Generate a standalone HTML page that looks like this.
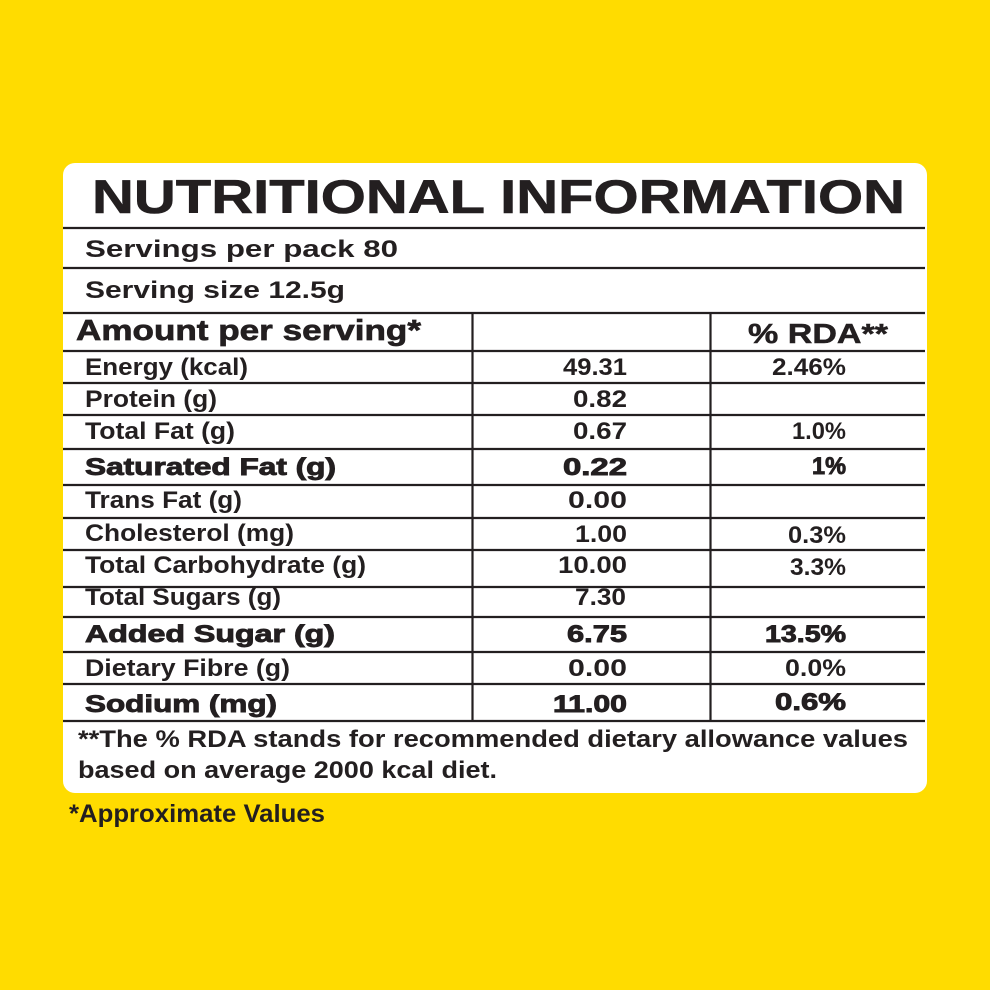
<!DOCTYPE html>
<html>
<head>
<meta charset="utf-8">
<style>
  html,body{margin:0;padding:0;background:#FFDC00;}
  svg{display:block;}
  text{font-family:"Liberation Sans",sans-serif;fill:#231f20;}
  .m{font-weight:bold;font-size:24px;}
  .b{font-weight:bold;font-size:24px;stroke:#231f20;stroke-width:0.9px;}
</style>
</head>
<body>
<svg width="990" height="990" viewBox="0 0 990 990" xmlns="http://www.w3.org/2000/svg">
  <rect x="0" y="0" width="990" height="990" fill="#FFDC00"/>
  <rect x="63" y="163" width="864" height="630" rx="12" ry="12" fill="#ffffff"/>

  <!-- title -->
  <text x="92" y="213" font-size="47" font-weight="bold" stroke="#231f20" stroke-width="0.6" textLength="813" lengthAdjust="spacingAndGlyphs">NUTRITIONAL INFORMATION</text>

  <!-- horizontal lines -->
  <g stroke="#231f20" stroke-width="2.2">
    <line x1="63" y1="228" x2="925" y2="228"/>
    <line x1="63" y1="268" x2="925" y2="268"/>
    <line x1="63" y1="313" x2="925" y2="313"/>
    <line x1="63" y1="351" x2="925" y2="351"/>
    <line x1="63" y1="383" x2="925" y2="383"/>
    <line x1="63" y1="415" x2="925" y2="415"/>
    <line x1="63" y1="449" x2="925" y2="449"/>
    <line x1="63" y1="485" x2="925" y2="485"/>
    <line x1="63" y1="518" x2="925" y2="518"/>
    <line x1="63" y1="550" x2="925" y2="550"/>
    <line x1="63" y1="587" x2="925" y2="587"/>
    <line x1="63" y1="617" x2="925" y2="617"/>
    <line x1="63" y1="652" x2="925" y2="652"/>
    <line x1="63" y1="684" x2="925" y2="684"/>
    <line x1="63" y1="721" x2="925" y2="721"/>
    <line x1="472.5" y1="313" x2="472.5" y2="721"/>
    <line x1="710.5" y1="313" x2="710.5" y2="721"/>
  </g>

  <!-- header rows -->
  <text x="85" y="257" font-size="24" font-weight="bold" textLength="313" lengthAdjust="spacingAndGlyphs">Servings per pack 80</text>
  <text x="85" y="298" font-size="24" font-weight="bold" textLength="260" lengthAdjust="spacingAndGlyphs">Serving size 12.5g</text>
  <text x="76" y="340" font-size="29" font-weight="bold" stroke="#231f20" stroke-width="0.7" textLength="345" lengthAdjust="spacingAndGlyphs">Amount per serving*</text>
  <text x="748" y="343" font-size="28" font-weight="bold" stroke="#231f20" stroke-width="0.5" textLength="140" lengthAdjust="spacingAndGlyphs">% RDA**</text>

  <!-- labels -->
  <text class="m" x="85" y="375" textLength="163" lengthAdjust="spacingAndGlyphs">Energy (kcal)</text>
  <text class="m" x="85" y="407" textLength="132" lengthAdjust="spacingAndGlyphs">Protein (g)</text>
  <text class="m" x="85" y="439" textLength="150" lengthAdjust="spacingAndGlyphs">Total Fat (g)</text>
  <text class="b" x="85" y="475" textLength="251" lengthAdjust="spacingAndGlyphs">Saturated Fat (g)</text>
  <text class="m" x="85" y="508" textLength="157" lengthAdjust="spacingAndGlyphs">Trans Fat (g)</text>
  <text class="m" x="85" y="541" textLength="209" lengthAdjust="spacingAndGlyphs">Cholesterol (mg)</text>
  <text class="m" x="85" y="573" textLength="281" lengthAdjust="spacingAndGlyphs">Total Carbohydrate (g)</text>
  <text class="m" x="85" y="605" textLength="196" lengthAdjust="spacingAndGlyphs">Total Sugars (g)</text>
  <text class="b" x="85" y="642" textLength="250" lengthAdjust="spacingAndGlyphs">Added  Sugar (g)</text>
  <text class="m" x="85" y="676" textLength="205" lengthAdjust="spacingAndGlyphs">Dietary Fibre (g)</text>
  <text class="b" x="85" y="712" textLength="192" lengthAdjust="spacingAndGlyphs">Sodium (mg)</text>

  <!-- values -->
  <g text-anchor="end">
    <text class="m" x="627" y="375" textLength="64" lengthAdjust="spacingAndGlyphs">49.31</text>
    <text class="m" x="627" y="407" textLength="54" lengthAdjust="spacingAndGlyphs">0.82</text>
    <text class="m" x="627" y="439" textLength="54" lengthAdjust="spacingAndGlyphs">0.67</text>
    <text class="b" x="627" y="475" textLength="64" lengthAdjust="spacingAndGlyphs">0.22</text>
    <text class="m" x="627" y="508" textLength="59" lengthAdjust="spacingAndGlyphs">0.00</text>
    <text class="m" x="627" y="542" textLength="52" lengthAdjust="spacingAndGlyphs">1.00</text>
    <text class="m" x="627" y="573" textLength="69" lengthAdjust="spacingAndGlyphs">10.00</text>
    <text class="m" x="626" y="605" textLength="51" lengthAdjust="spacingAndGlyphs">7.30</text>
    <text class="b" x="627" y="642" textLength="60" lengthAdjust="spacingAndGlyphs">6.75</text>
    <text class="m" x="627" y="676" textLength="59" lengthAdjust="spacingAndGlyphs">0.00</text>
    <text class="b" x="627" y="712" textLength="74" lengthAdjust="spacingAndGlyphs">11.00</text>

    <text class="m" x="846" y="375" textLength="74" lengthAdjust="spacingAndGlyphs">2.46%</text>
    <text class="m" x="846" y="439" textLength="54" lengthAdjust="spacingAndGlyphs">1.0%</text>
    <text class="b" x="846" y="474" textLength="34" lengthAdjust="spacingAndGlyphs">1%</text>
    <text class="m" x="846" y="543" textLength="58" lengthAdjust="spacingAndGlyphs">0.3%</text>
    <text class="m" x="846" y="575" textLength="56" lengthAdjust="spacingAndGlyphs">3.3%</text>
    <text class="b" x="846" y="642" textLength="81" lengthAdjust="spacingAndGlyphs">13.5%</text>
    <text class="m" x="846" y="676" textLength="61" lengthAdjust="spacingAndGlyphs">0.0%</text>
    <text class="b" x="846" y="710" textLength="71" lengthAdjust="spacingAndGlyphs">0.6%</text>
  </g>

  <!-- footnotes -->
  <text class="m" x="78" y="747" textLength="830" lengthAdjust="spacingAndGlyphs">**The % RDA stands for recommended dietary allowance values</text>
  <text class="m" x="78" y="778" textLength="419" lengthAdjust="spacingAndGlyphs">based on average 2000 kcal diet.</text>
  <text x="69" y="822" font-size="25" font-weight="bold" textLength="256" lengthAdjust="spacingAndGlyphs">*Approximate Values</text>
</svg>
</body>
</html>
